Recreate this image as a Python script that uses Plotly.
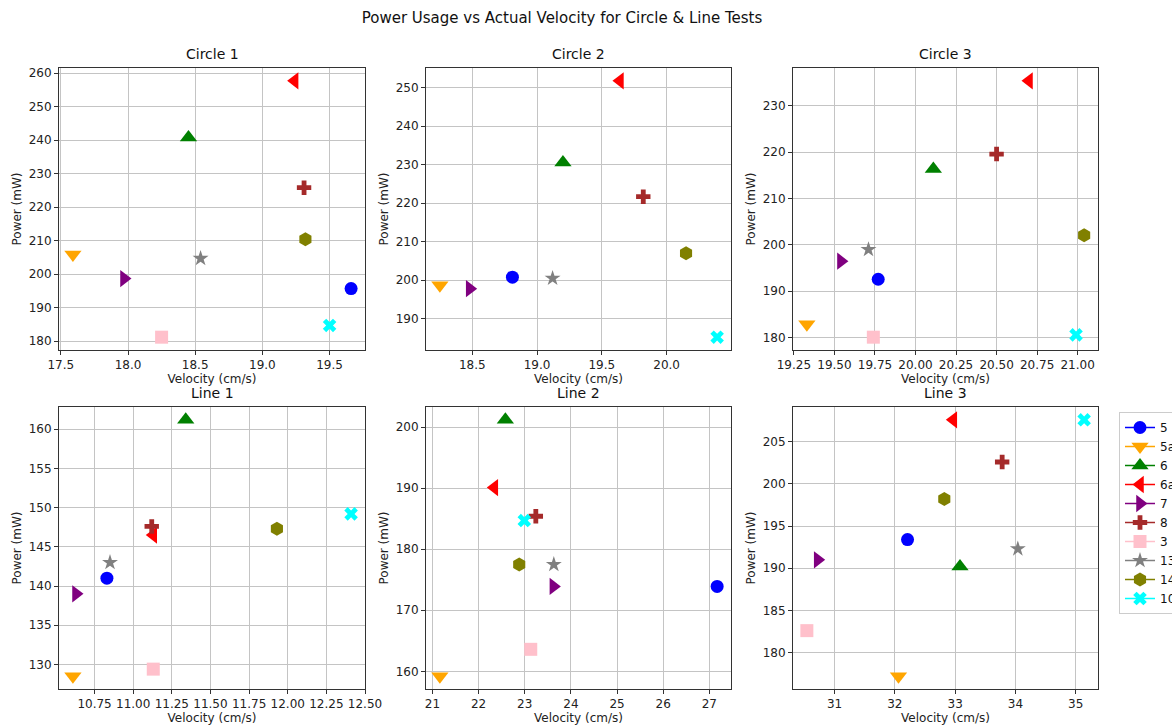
import plotly.graph_objects as go

# ---- data ----
series_names = ["5", "5a", "6", "6a", "7", "8", "3", "13", "14", "10"]
series_colors = ["blue", "orange", "green", "red", "purple", "brown", "pink", "gray", "olive", "cyan"]
series_symbols = ["circle", "triangle-down", "triangle-up", "triangle-left", "triangle-right",
                  "cross", "square", "star", "hexagon", "x"]
symbol_sizes = [13, 15, 15, 15, 15, 12, 13, 12, 14, 12]

test_titles = ["Circle 1", "Circle 2", "Circle 3", "Line 1", "Line 2", "Line 3"]

circle1_vel = [19.66, 17.59, 18.45, 19.24, 17.97, 19.31, 18.25, 18.54, 19.32, 19.50]
circle1_pow = [195.7, 205.9, 240.8, 257.7, 198.7, 225.8, 181.2, 204.7, 210.4, 184.7]
circle2_vel = [18.81, 18.25, 19.20, 19.64, 18.48, 19.82, None, 19.12, 20.15, 20.39]
circle2_pow = [200.8, 198.7, 230.6, 251.8, 197.8, 221.7, None, 200.5, 207.0, 185.2]
circle3_vel = [19.77, 19.33, 20.11, 20.70, 19.54, 20.50, 19.74, 19.71, 21.04, 20.99]
circle3_pow = [192.6, 182.9, 216.4, 235.4, 196.5, 219.6, 180.1, 199.0, 202.1, 180.6]
line1_vel = [10.83, 10.61, 11.34, 11.13, 10.63, 11.12, 11.13, 10.85, 11.93, 12.41]
line1_pow = [141.0, 128.5, 161.2, 146.5, 139.0, 147.6, 129.4, 143.0, 147.3, 149.2]
line2_vel = [27.17, 21.16, 22.58, 22.34, 23.62, 23.24, 23.13, 23.63, 22.88, 22.99]
line2_pow = [173.9, 159.2, 201.2, 190.1, 173.9, 185.4, 163.6, 177.5, 177.5, 184.7]
line3_vel = [32.21, 32.06, 33.08, 32.97, 30.72, 33.78, 30.54, 34.04, 32.82, 35.14]
line3_pow = [193.4, 177.2, 190.2, 207.6, 191.0, 202.6, 182.6, 192.3, 198.2, 207.6]

tests_vel = [circle1_vel, circle2_vel, circle3_vel, line1_vel, line2_vel, line3_vel]
tests_pow = [circle1_pow, circle2_pow, circle3_pow, line1_pow, line2_pow, line3_pow]

# tick settings per subplot (x dtick, x format, y dtick)
x_dticks = [0.5, 0.5, 0.25, 0.25, 1, 1]
x_formats = [".1f", ".1f", ".2f", ".2f", "d", "d"]
y_dticks = [10, 10, 10, 5, 10, 5]

# The page margin is removed by a small post script; the figure is a bit
# wider than the window so the legend runs off the right edge, as in the
# reference picture.
W_VIEW, H = 1172, 727
W = W_VIEW + 40
col_px = [(59, 365), (426, 731), (793, 1098)]
row_px = [(68, 350), (407, 689)]

FONT = "DejaVu Sans"
fig = go.Figure()


def padded(vals):
    v = [a for a in vals if a is not None]
    lo, hi = min(v), max(v)
    m = (hi - lo) * 0.05
    return [lo - m, hi + m]


def fx(px):
    return px / W


def fy(py):
    return 1 - py / H


for k in range(6):
    r, c = divmod(k, 3)
    ax = "" if k == 0 else str(k + 1)
    for i, name in enumerate(series_names):
        fig.add_trace(go.Scatter(
            x=[tests_vel[k][i]], y=[tests_pow[k][i]], name=name, legendgroup=name,
            showlegend=(k == 0), mode="lines+markers",
            line=dict(color=series_colors[i], width=1.5),
            marker=dict(symbol=series_symbols[i], color=series_colors[i],
                        size=symbol_sizes[i], line=dict(width=0)),
            xaxis="x" + ax, yaxis="y" + ax,
        ))
    x0, x1 = col_px[c]
    y0, y1 = row_px[r]
    common = dict(showline=True, mirror=True, linecolor="#333333", linewidth=1,
                  showgrid=True, gridcolor="#c4c4c4", gridwidth=1, zeroline=False,
                  ticks="outside", ticklen=4, tickcolor="#333333",
                  tickfont=dict(family=FONT, size=12, color="#222222"))
    fig.layout["xaxis" + ax] = dict(
        domain=[fx(x0), fx(x1)], anchor="y" + ax,
        range=padded(tests_vel[k]), dtick=x_dticks[k], tickformat=x_formats[k],
        title=dict(text="Velocity (cm/s)", standoff=1,
                   font=dict(family=FONT, size=12, color="#222222")),
        **common)
    fig.layout["yaxis" + ax] = dict(
        domain=[fy(y1), fy(y0)], anchor="x" + ax,
        range=padded(tests_pow[k]), dtick=y_dticks[k],
        title=dict(text="Power (mW)", standoff=4,
                   font=dict(family=FONT, size=12, color="#222222")),
        **common)
    fig.add_annotation(text=test_titles[k], xref="paper", yref="paper",
                       x=fx((x0 + x1) / 2), y=fy(y0 - 4),
                       xanchor="center", yanchor="bottom", showarrow=False,
                       font=dict(family=FONT, size=14, color="#111111"))

fig.update_layout(
    width=W, height=H,
    margin=dict(l=0, r=0, t=0, b=0, autoexpand=False),
    paper_bgcolor="white", plot_bgcolor="white",
    title=dict(text="Power Usage vs Actual Velocity for Circle & Line Tests",
               x=fx(562), xanchor="center", y=fy(18), yanchor="middle",
               font=dict(family=FONT, size=15, color="#111111")),
    legend=dict(x=fx(1119), y=fy(412), xanchor="left", yanchor="top",
                bgcolor="white", bordercolor="#cccccc", borderwidth=1,
                font=dict(family=FONT, size=12, color="#111111"),
                tracegroupgap=0, itemwidth=30),
    showlegend=True,
)

fig.write_html(
    "out.html",
    config={"displayModeBar": False},
    post_script="document.body.style.margin='0';document.body.style.overflow='hidden';"
                "document.documentElement.style.overflow='hidden';",
)
